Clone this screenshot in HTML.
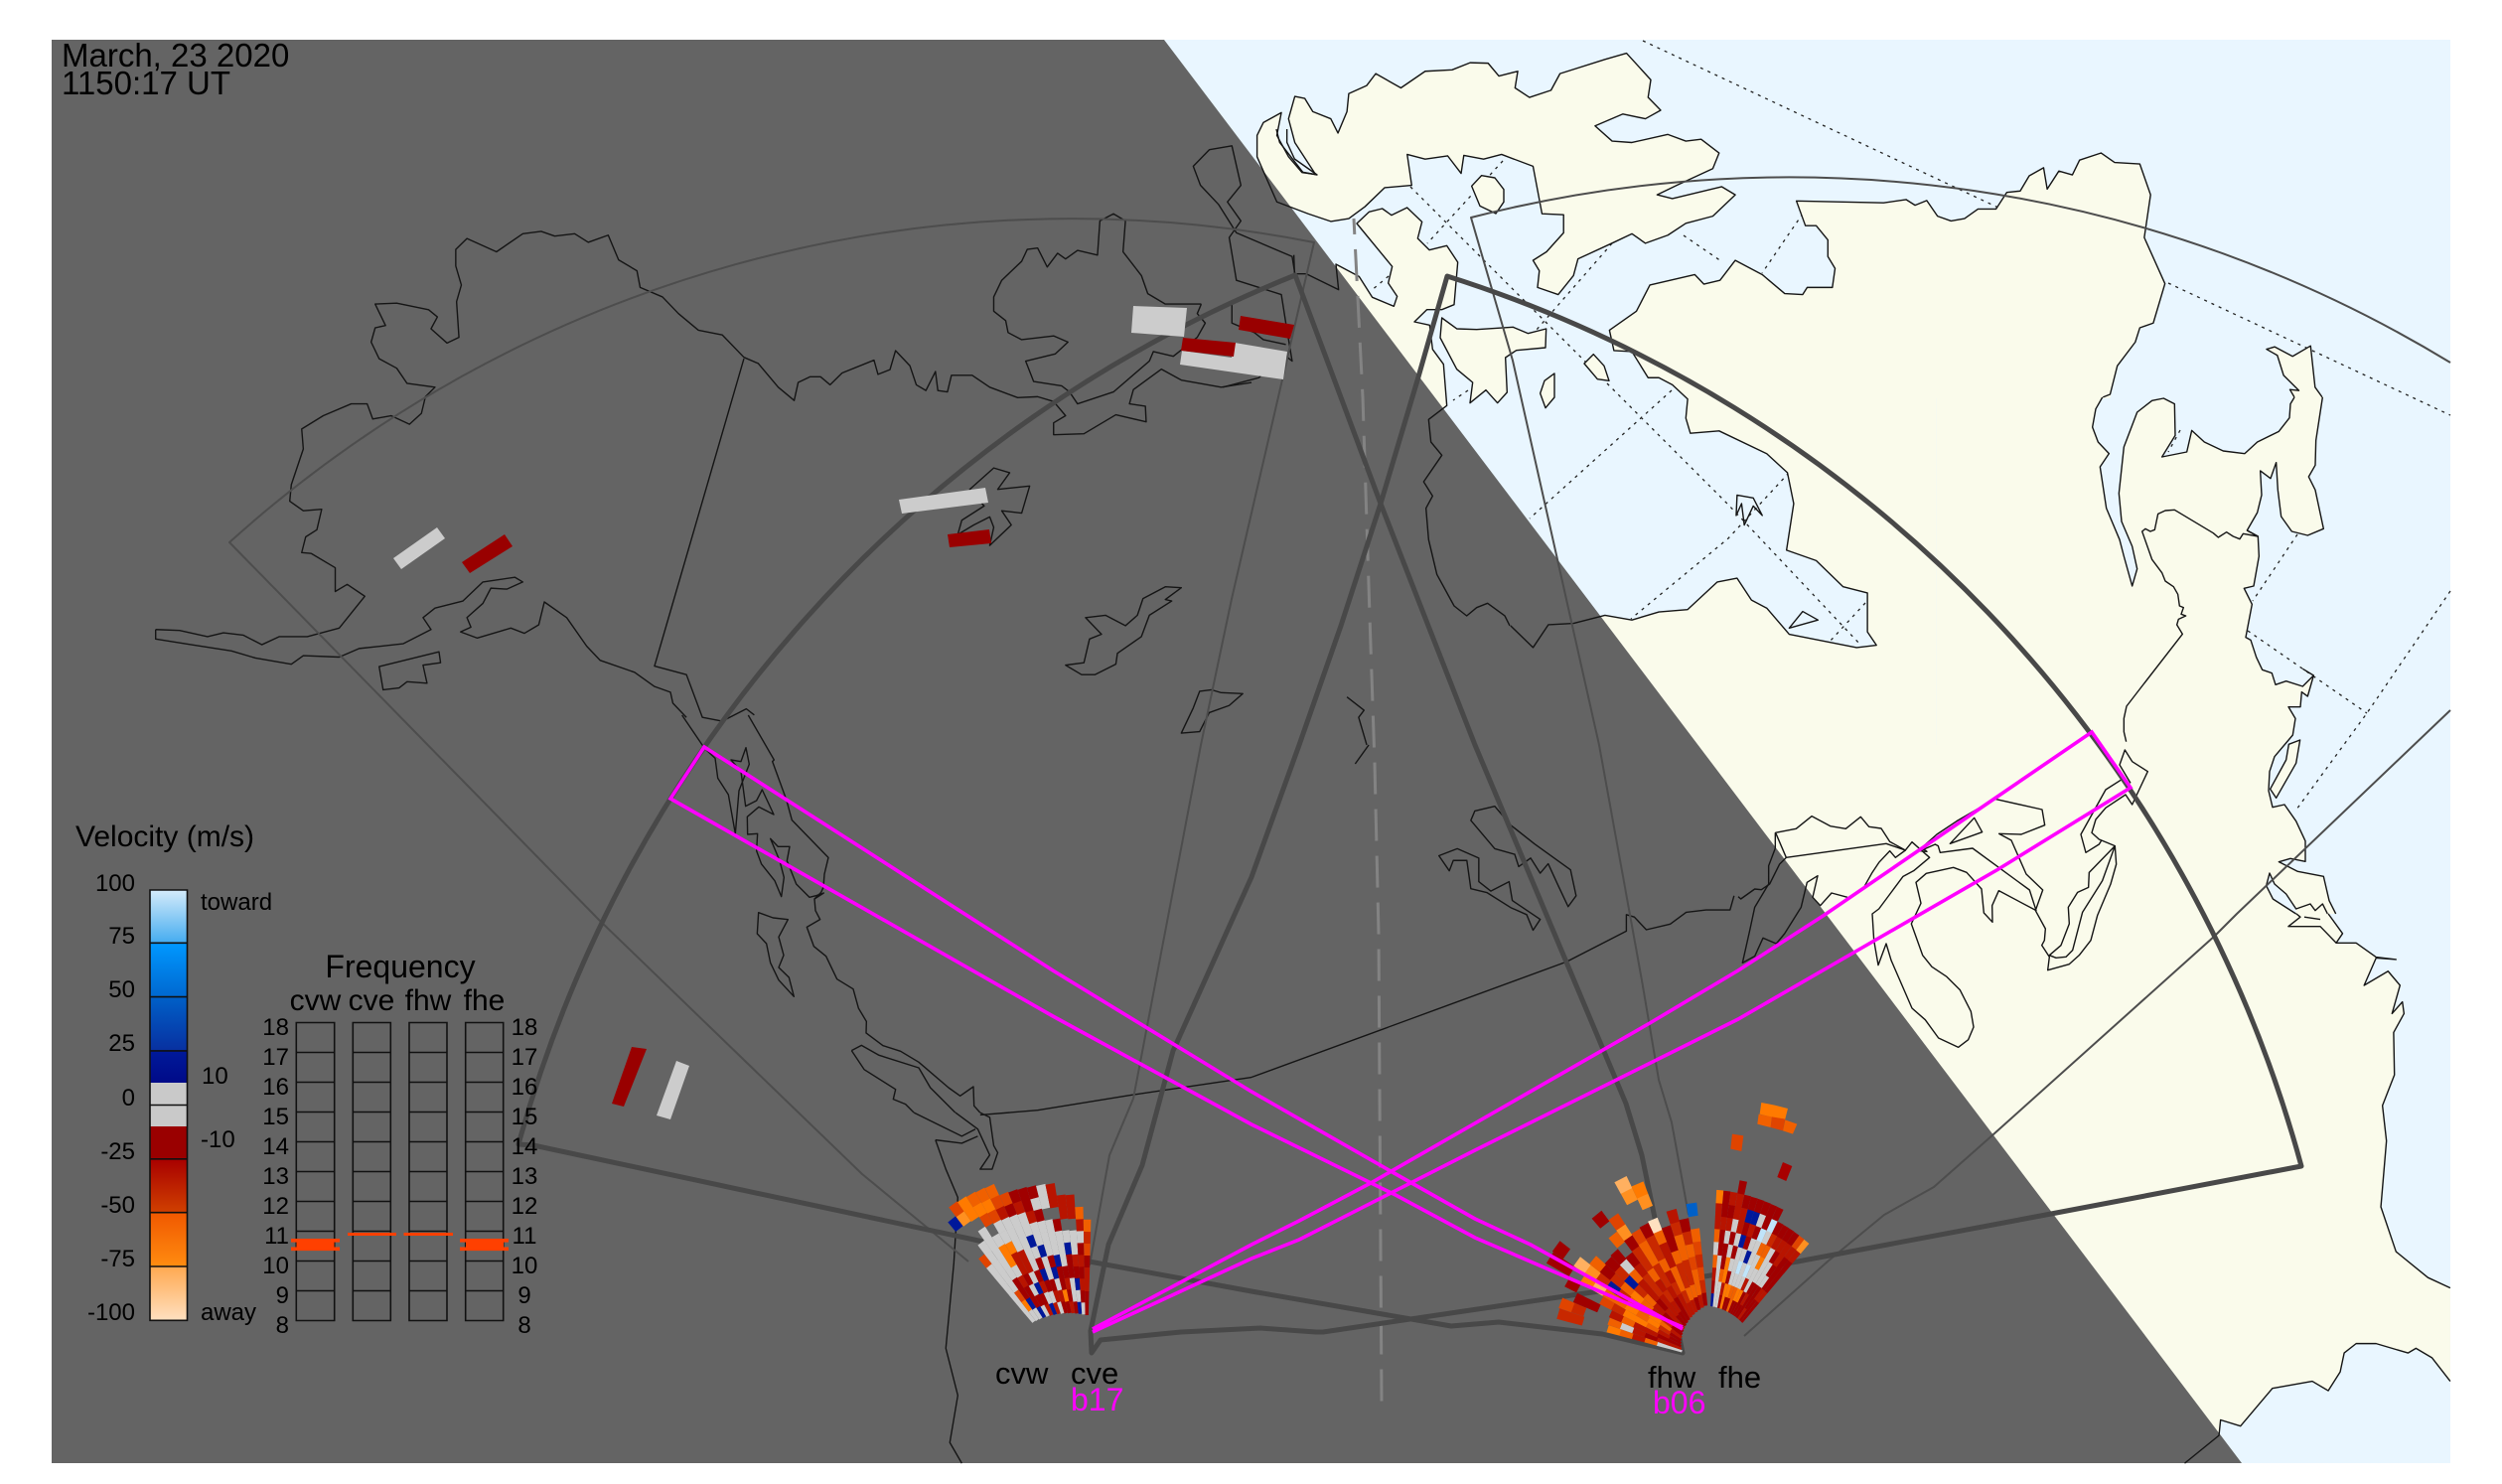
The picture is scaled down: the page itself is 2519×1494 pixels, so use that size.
<!DOCTYPE html>
<html><head><meta charset="utf-8"><style>
html,body{margin:0;padding:0;background:#fff}
svg{display:block}
path,line,rect{vector-effect:non-scaling-stroke}
text{font-family:"Liberation Sans",sans-serif;fill:#000}
.c{fill:none;stroke:#151515;stroke-width:1.4;stroke-linejoin:round}
.g{fill:none;stroke:#222;stroke-width:1.3;stroke-dasharray:3 5}
.l{fill:#fafbeb;stroke:none}
.tk{fill:none;stroke:#484848;stroke-width:5;stroke-linejoin:round}
.tn{fill:none;stroke:#4d4d4d;stroke-width:2;stroke-linejoin:round}
.m{fill:none;stroke:#ff00ff;stroke-width:3.6;stroke-linejoin:miter}
.t{font-size:24px}.b{stroke:#111;stroke-width:1.6;fill:none}
</style></head><body>
<svg xmlns="http://www.w3.org/2000/svg" width="2519" height="1494" viewBox="0 0 2519 1494">
<defs>
<linearGradient id="c1" x1="0" y1="0" x2="0" y2="1"><stop offset="0" stop-color="#d4ebfa"/><stop offset="1" stop-color="#45acf0"/></linearGradient>
<linearGradient id="c2" x1="0" y1="0" x2="0" y2="1"><stop offset="0" stop-color="#0098ff"/><stop offset="1" stop-color="#0068d0"/></linearGradient>
<linearGradient id="c3" x1="0" y1="0" x2="0" y2="1"><stop offset="0" stop-color="#0060c8"/><stop offset="1" stop-color="#0830a0"/></linearGradient>
<linearGradient id="c4" x1="0" y1="0" x2="0" y2="1"><stop offset="0" stop-color="#001a9a"/><stop offset="1" stop-color="#000a88"/></linearGradient>
<linearGradient id="c5" x1="0" y1="0" x2="0" y2="1"><stop offset="0" stop-color="#a80000"/><stop offset="1" stop-color="#d04000"/></linearGradient>
<linearGradient id="c6" x1="0" y1="0" x2="0" y2="1"><stop offset="0" stop-color="#f05800"/><stop offset="1" stop-color="#ff8c10"/></linearGradient>
<linearGradient id="c7" x1="0" y1="0" x2="0" y2="1"><stop offset="0" stop-color="#ffa850"/><stop offset="1" stop-color="#ffe0c0"/></linearGradient>
</defs>

<!-- sea -->
<rect x="52" y="40" width="2415" height="1433" fill="#e9f6ff"/>

<!-- dotted graticule -->
<path class="g" d="M1654,41 2014,210M2183,285 2467,418M1513,162 1437,245M1420,188 1740,508 1874,650M1623,245 1547,332M1695,237 1733,263M1478,393 1463,403M1683,393 1540,522M1398,278 1380,293M1878,607 1842,646M1815,215 1774,275M1801,476 1740,542 1642,623M2313,538 2268,605M2263,635 2383,718M2467,595 2383,718 2312,815M2195,433 2183,455M2100,210 2075,250"/>

<!-- land fills -->
<g transform="translate(1100,0) scale(.905,.4783)">
<path class="l" d="M210,237 190,258 183,285 183,330 205,425 240,450 265,466 285,460 303,435 325,395 355,390 350,325 370,335 395,328 410,365 413,327 435,335 455,325 490,350 500,450 524,452 524,490 505,530 490,548 497,570 495,605 518,620 535,580 540,545 580,510 600,492 615,512 640,495 660,470 690,455 715,410 700,393 645,418 628,410 650,390 690,355 697,322 677,293 660,297 640,283 600,300 578,297 559,265 590,240 615,250 632,232 618,205 621,168 594,112 570,125 520,155 510,190 486,205 470,185 473,150 452,160 440,133 420,132 400,147 370,150 343,185 315,155 305,180 285,197 283,235 273,280 265,250 245,235 236,207 225,203 218,250 225,300 248,367 233,363 218,330 205,285Z"/>
<path class="l" d="M300,1363 490,1363 507,1315 535,1312 570,1295 600,1305 630,1288 662,1283 695,1225 717,1217 733,1263 750,1280 775,1335 815,1350 850,1363 872,1358 862,1330 862,1248 835,1235 805,1180 772,1158 780,1060 773,995 750,955 697,907 665,912 660,880 662,840 645,810 630,795 618,795 600,740 580,738 575,695 605,655 620,600 670,578 680,598 698,590 715,548 745,578 770,618 790,620 795,605 823,605 826,565 818,540 818,505 805,475 793,475 783,423 880,427 905,420 915,432 928,422 940,455 955,465 970,460 985,440 1005,440 1017,405 1032,402 1042,370 1058,353 1062,398 1075,360 1090,368 1098,337 1122,322 1137,342 1165,345 1177,410 1170,500 1193,597 1180,680 1165,690 1160,720 1140,770 1132,838 939,838 939,1568 300,1568Z"/>
<path class="l" d="M1335,838 1332,820 1342,822 1325,790 1318,748 1306,735 1315,730 1335,750 1355,728 1360,815 1370,838Z"/>
</g>
<g transform="translate(1240,130) scale(.33333)">
<path class="l" d="M378,285 415,250 455,240 483,260 530,237 575,280 562,330 597,365 650,352 683,402 672,530 635,545 590,545 552,582 598,592 607,665 640,710 650,835 600,900 300,500 315,408 385,445 425,508 490,535 500,505 473,465 485,415Z"/>
<path class="l" d="M635,570 680,603 740,605 850,598 895,617 950,603 948,660 860,668 827,690 832,795 803,827 768,788 720,827 728,765 680,725 630,630Z"/>
<path class="l" d="M1065,708 1093,680 1125,715 1140,760 1105,755ZM932,798 945,760 975,738 975,810 948,842ZM725,172 755,140 795,147 822,182 822,220 798,255 750,232Z"/>
</g>
<g transform="translate(1950,400) scale(.33333)">
<path class="l" d="M0,0 500,0 480,35 470,90 487,135 520,170 493,210 512,335 552,430 565,480 590,570 605,518 590,450 558,375 550,290 565,150 605,45 650,10 685,3 718,20 720,115 680,180 755,165 770,100 808,135 865,162 930,170 968,135 1033,103 1065,62 1068,20 1080,0 1165,0 1145,130 1143,205 1123,240 1143,280 1168,397 1120,417 1072,405 1040,360 1030,280 1025,197 1008,245 977,222 981,295 968,348 937,402 970,420 973,480 957,570 928,577 952,625 933,725 948,733 965,785 983,823 1012,833 1023,868 1055,857 1105,873 1138,840 1120,903 1102,890 1098,935 1062,935 1083,970 1075,1020 1020,1085 1005,1130 1002,1188 1014,1238 1050,1230 1085,1280 1113,1340 1113,1402 1068,1393 1033,1403 1090,1432 1168,1447 1185,1520 1205,1560 0,1560Z"/>
<path d="M1005,1437 1020,1470 1055,1500 1085,1545 1085,1560 1015,1515 995,1475Z" fill="#e9f6ff"/>
<path class="l" d="M1063,1048 1097,1035 1085,1105 1025,1210 1007,1183 1055,1095Z"/>
</g>
<g transform="translate(1260,750) scale(.803,.4745)">
<path class="l" d="M0,0 862,0 862,360 0,360Z"/>
<path class="l" d="M0,356 1350,356 1368,400 1360,420 1385,420 1410,450 1435,455 1410,452 1395,510 1425,480 1440,510 1430,570 1443,545 1445,570 1432,610 1433,700 1418,765 1423,840 1416,980 1435,1075 1475,1130 1503,1152 1503,1350 1480,1300 1460,1280 1450,1290 1410,1270 1385,1270 1370,1290 1365,1330 1350,1370 1330,1350 1280,1365 1240,1445 1215,1432 1213,1465 1170,1524 0,1524Z"/>
</g>

<!-- night -->
<path d="M52,40 1172,40 2257,1473 52,1473Z" fill="#646464"/>

<!-- coast strokes -->
<g transform="scale(.8036,.4783)">
<path class="c" d="M195,1325 195,1345 240,1357 290,1370 320,1385 365,1398 380,1380 425,1383 450,1365 505,1355 540,1325 530,1300 545,1280 580,1265 605,1225 645,1215 655,1225 635,1240 615,1238 605,1270 585,1300 590,1320 577,1330 598,1343 640,1322 657,1333 675,1315 682,1267 710,1300 735,1360 752,1390 795,1415 820,1445 840,1457 843,1480 860,1510"/>
<path class="c" d="M195,1325 225,1327 260,1340 280,1332 305,1337 328,1357 350,1340 385,1340 425,1322 457,1255 435,1230 420,1245 420,1195 390,1165 378,1163 383,1130 397,1115 403,1072 380,1075 363,1055 365,1020 380,945 378,903 405,875 440,850 460,850 467,882 490,875 513,893 528,870 533,835 545,815 510,807 497,775 475,755 465,720 470,690 483,685 470,640 497,638 537,652 548,667 540,692 560,722 575,710 572,635 578,600 571,560 571,525 585,502 622,530 655,492 678,487 695,497 720,492 737,510 762,495 775,547 798,570 802,605 830,625 850,660 875,695 905,705 932,752 950,765 975,815 995,843 1000,805 1015,793 1028,793 1040,810 1055,785 1095,758 1100,788 1115,778 1122,738 1140,770 1148,810 1160,822 1172,782 1175,822 1187,825 1192,790 1218,790 1240,815 1275,837 1300,835 1320,845 1335,875 1320,890 1320,915 1358,913 1398,873 1436,888 1435,855 1415,850 1420,820 1455,777 1480,800 1530,815 1568,805"/>
<path class="c" d="M932,755 820,1402 860,1420 880,1510 905,1518 935,1492 945,1505"/>
<path class="c" d="M1505,640 1460,640 1438,618 1430,580 1407,530 1410,465 1395,450 1378,465 1375,537 1350,527 1335,545 1325,533 1312,562 1300,522 1287,525 1280,550 1255,590 1245,625 1245,655 1260,675 1263,700 1280,715 1320,707 1338,720 1322,745 1285,760 1295,803 1330,812 1340,825 1350,850 1395,825 1440,760 1445,740 1470,750 1500,710 1510,680 1500,660 1505,640"/>
<path class="c" d="M1245,985 1265,995 1250,1030 1290,1023 1280,1080 1255,1075 1267,1105 1240,1148 1245,1110 1240,1088 1220,1105 1200,1125 1205,1095 1233,1065 1215,1030Z"/>
<path class="c" d="M1460,1235 1480,1237 1460,1262 1468,1265 1440,1295 1430,1340 1400,1375 1398,1398 1372,1420 1355,1420 1335,1400 1358,1395 1365,1345 1380,1335 1360,1300 1385,1295 1410,1317 1425,1295 1432,1260Z"/>
<path class="c" d="M1518,1452 1530,1458 1557,1460 1540,1485 1515,1500 1503,1540 1480,1543 1495,1490 1503,1455Z"/>
<path class="c" d="M475,1403 550,1372 552,1395 530,1400 535,1438 510,1435 500,1448 480,1452Z"/>
</g>
<g transform="translate(1100,0) scale(.905,.4783)">
<path class="c" d="M210,237 190,258 183,285 183,330 205,425 240,450 265,466 285,460 303,435 325,395 355,390 350,325 370,335 395,328 410,365 413,327 435,335 455,325 490,350 500,450 524,452 524,490 505,530 490,548 497,570 495,605 518,620 535,580 540,545 580,510 600,492 615,512 640,495 660,470 690,455 715,410 700,393 645,418 628,410 650,390 690,355 697,322 677,293 660,297 640,283 600,300 578,297 559,265 590,240 615,250 632,232 618,205 621,168 594,112 570,125 520,155 510,190 486,205 470,185 473,150 452,160 440,133 420,132 400,147 370,150 343,185 315,155 305,180 285,197 283,235 273,280 265,250 245,235 236,207 225,203 218,250 225,300 248,367 233,363 218,330 205,285Z"/>
<path class="c" d="M465,1317 490,1363 507,1315 535,1312 570,1295 600,1305 630,1288 662,1283 695,1225 717,1217 733,1263 750,1280 775,1335 815,1350 850,1363 872,1358 862,1330 862,1248 835,1235 805,1180 772,1158 780,1060 773,995 750,955 697,907 665,912 660,880 662,840 645,810 630,795 618,795 600,740 580,738 575,695 605,655 620,600 670,578 680,598 698,590 715,548 745,578 770,618 790,620 795,605 823,605 826,565 818,540 818,505 805,475 793,475 783,423 880,427 905,420 915,432 928,422 940,455 955,465 970,460 985,440 1005,440 1017,405 1032,402 1042,370 1058,353 1062,398 1075,360 1090,368 1098,337 1122,322 1137,342 1165,345 1177,410 1170,500 1193,597 1180,680 1165,690 1160,720 1140,770 1132,830 1124,836"/>
<path class="c" d="M1337,836 1332,820 1342,822 1325,790 1318,748 1306,735 1315,730 1335,750 1355,728 1360,815 1368,836"/>
<path class="c" d="M145,815 185,795 212,745 222,760 215,680 210,620 160,590 152,500 165,465 150,425 165,390 155,307 130,315 112,350 120,390 140,430 160,490 222,540 225,575"/>
<path class="c" d="M155,640 155,680 180,700 190,715 215,725"/>
<path class="c" d="M775,1322 790,1287 807,1305ZM717,1042 735,1048 745,1085 735,1065 725,1105 722,1060 716,1085Z"/>
<path class="c" d="M283,1467 302,1495 296,1510 305,1568"/>
</g>
<g transform="translate(1240,130) scale(.33333)">
<path class="c" d="M840,1500 825,1470 773,1432 740,1445 710,1470 672,1440 620,1345 595,1240 587,1145 607,1108 580,1065 635,985 602,945 595,877 650,835 640,710 607,665 598,592 552,582 590,545 635,545 672,530 683,402 650,352 597,365 562,330 575,280 530,237 483,260 455,240 415,250 378,285 485,415 473,465 500,505 490,535 425,508 385,445 315,408 323,485 225,437 190,437 188,380"/>
<path class="c" d="M635,570 680,603 740,605 850,598 895,617 950,603 948,660 860,668 827,690 832,795 803,827 768,788 720,827 728,765 680,725 630,630Z"/>
<path class="c" d="M1065,708 1093,680 1125,715 1140,760 1105,755ZM932,798 945,760 975,738 975,810 948,842ZM725,172 755,140 795,147 822,182 822,220 798,255 750,232Z"/>
<path class="c" d="M135,0 145,40 215,130 258,138 190,90 167,40 167,0"/>
</g>
<g transform="translate(660,720) scale(.33333)">
<path class="c" d="M80,0 148,100 180,130 188,190 220,240 241,358 252,228 283,148 273,98 258,140 228,135 258,170 272,275 305,258 322,225 357,300 312,277 277,307 278,360 308,358 305,410 320,450 360,500 380,548 388,490 375,440 347,373 370,397 405,397 397,440 425,510 465,550 485,545 508,537 480,555 483,590 497,617 457,640 478,698 515,728 548,797 597,827 613,885 637,925 636,960 687,998 740,1015 795,1048 885,1125 920,1150 960,1122 962,1180 980,1200"/>
<path class="c" d="M280,0 358,135 353,140 395,255 412,317 522,430 510,480 507,520 500,535 480,555"/>
<path class="c" d="M311,596 355,612 400,617 372,670 387,725 372,762 403,792 418,850 372,800 347,748 335,690 307,660Z"/>
<path class="c" d="M592,1013 622,997 675,1027 795,1065 830,1125 905,1200M592,1013 630,1070 725,1130 718,1160 755,1175 780,1200"/>
</g>
<g transform="translate(0,750) scale(.8036,.4745)">
<path class="c" d="M1197,780 1225,815 1240,870 1228,900 1243,900 1250,865 1245,850 1240,790 1228,780"/>
<path class="c" d="M1145,780 1175,805 1205,830 1222,815"/>
<path class="c" d="M1172,838 1185,900 1200,960 1195,1100 1185,1280 1200,1380 1190,1480 1205,1524"/>
<path class="c" d="M1172,838 1205,845 1225,830"/>
<path class="c" d="M1228,785 1300,775 1420,742 1568,705"/>
</g>
<g transform="translate(1260,750) scale(.803,.4745)">
<path class="c" d="M0,705 395,460 470,395 470,360 480,365 495,392 525,380 545,355 570,350 600,350 605,320"/>
<path class="c" d="M1310,358 1315,365 1300,385 1340,385 1360,420M1340,370 1320,365"/>
<path class="c" d="M1350,358 1368,400 1360,420 1385,420 1410,450 1435,455 1410,452 1395,510 1425,480 1440,510 1430,570 1443,545 1445,570 1432,610 1433,700 1418,765 1423,840 1416,980 1435,1075 1475,1130 1503,1152"/>
<path class="c" d="M1503,1350 1480,1300 1460,1280 1450,1290 1410,1270 1385,1270 1370,1290 1365,1330 1350,1370 1330,1350 1280,1365 1240,1445 1215,1432 1213,1465 1170,1524"/>
<path class="c" d="M305,130 325,170 355,210 400,265 407,320 397,343 385,300 372,252 362,272 350,240 335,258 330,232 305,220 275,160 280,140Z"/>
<path class="c" d="M235,235 258,220 285,240 285,290 300,310 323,290 327,330 362,370 353,393 345,360 325,345 295,313 275,305 270,245 253,245 248,267Z"/>
<path class="c" d="M130,40 147,0"/>
</g>
<g transform="translate(1950,400) scale(.33333)">
<path class="c" d="M500,0 480,35 470,90 487,135 520,170 493,210 512,335 552,430 565,480 590,570 605,518 590,450 558,375 550,290 565,150 605,45 650,10 685,3 718,20 720,115 680,180 755,165 770,100 808,135 865,162 930,170 968,135 1033,103 1065,62 1068,20 1080,0"/>
<path class="c" d="M1165,0 1145,130 1143,205 1123,240 1143,280 1168,397 1120,417 1072,405 1040,360 1030,280 1025,197 1008,245 977,222 981,295 968,348 937,402 970,420 973,480 957,570 928,577 952,625 933,725 948,733 965,785 983,823 1012,833 1023,868 1055,857 1105,873 1138,840 1105,820M1138,840 1120,903 1102,890 1098,935 1062,935 1083,970 1075,1020 1020,1085 1005,1130 1002,1188 1014,1238 1050,1230 1085,1280 1113,1340 1113,1402 1068,1393 1033,1403 1090,1432 1168,1447 1185,1520 1205,1560"/>
<path class="c" d="M1063,1048 1097,1035 1085,1105 1025,1210 1007,1183 1055,1095Z"/>
<path class="c" d="M1085,1560 1015,1515 995,1475 1005,1437 1020,1470 1055,1500 1085,1545 1128,1530 1143,1550 1165,1530 1180,1560"/>
<path class="c" d="M937,402 970,420 925,412 915,428 895,420 875,407 850,423 835,410 718,340 690,342 668,352 658,400 645,405 630,397 620,405 650,490 680,530 690,555 715,572 728,595 733,630 745,635 738,655 752,660 730,670 725,687 742,715 610,885 573,933 565,970 565,1010 572,1040"/>
</g>
<g transform="translate(1750,750) scale(.33333)">
<path class="c" d="M0,458 8,465 50,435 70,437 95,420 125,360 145,340 447,298 505,318 475,340 458,320 425,355 405,385 378,433"/>
<path class="c" d="M145,340 113,265 175,253 222,215 278,245 325,253 370,217 395,247 432,252 458,292 505,318 525,293 578,340 530,380 498,397 425,495 405,510 410,590 423,665 447,600 462,650 525,795 565,830 605,885 665,913 695,890 711,852 703,805 670,740 630,700 585,670 557,635 523,540 552,478 537,415 568,388 650,370 690,385 735,435 742,507 768,535 767,485 787,440 900,500 880,438 708,312 610,325 604,305 595,300 550,320 570,322 555,310 600,270 660,230 775,163 918,195 926,242 855,270 788,268 825,288 870,390 920,438 898,500 928,555 925,590 917,605 940,640 935,680 1000,662 1030,635 1065,590 1085,515 1125,420 1142,360 1138,305 1060,385 1058,430 1025,445 997,490 1000,540 975,605 940,635 960,643 990,640 1010,620 1040,505 1100,410 1138,305 1090,285 1068,265 1080,225 1110,190 1170,150 1190,180 1237,80 1190,50 1168,15 1152,60 1185,115"/>
<path class="c" d="M1165,100 1110,135 1035,270 1050,325 1090,300 1098,287"/>
<path class="c" d="M713,220 737,263 640,298Z"/>
<path class="c" d="M112,312 92,365 92,420 50,490 35,560 13,658 50,638 75,583 115,600 140,570 190,490 208,415 240,395 225,460 248,485 282,447 330,460"/>
<path class="c" d="M112,265 112,312"/>
</g>

<!-- dashed meridian -->
<path d="M1363,220 1372,400 1379,620 1384,769 1388,940 1391,1414" fill="none" stroke="#838383" stroke-width="3" stroke-dasharray="32 15" stroke-dashoffset="16"/>

<!-- thin FOVs -->
<path class="tn" d="M975,1270 868,1182 603,926 231,546 A1265.5,1265.5 0 0 1 1323,244 L1310,300 1240,603 1209,750 1141,1106 1117,1163 1097,1274"/>
<path class="tn" d="M2467,365 A1282,1282 0 0 0 1481,219 L1523,363 1583,630 1610,750 1653,987 1670,1087 1683,1130 1700,1223"/>
<path class="tn" d="M2467,715 2252,920 2230,942 2007,1142 1947,1195 1897,1223 1840,1270 1756,1345"/>

<!-- thick FOVs -->
<path class="tk" d="M1099,1362 1098,1340 1116,1253 1150,1173 1181,1058 1260,883 1308,750 1350,630 1390,507 1427,383 1457,278 A1297,1297 0 0 1 2317,1174 L2065,1222 1810,1270 1710,1286 1589,1303 1332,1341 1325,1341 1269,1337 1189,1341 1108,1349Z"/>
<path class="tk" d="M1694,1362 1653,1163 1637,1111 1573,959 1485,750 1438,630 1390,507 1304,277 A1324,1324 0 0 0 522,1152 L537,1153 1004,1253 1260,1300 1461,1335 1509,1331 1613,1343Z"/>

<!-- small backscatter bars -->
<g fill="#cccccc">
<path d="M1141,308 1195,310 1192,339 1139,335Z"/>
<path d="M1190,353 1240,360 1243,345 1296,354 1292,382 1188,367Z"/>
<path d="M905,503 992,491 995,506 908,517Z"/>
<path d="M440,531 448,542 404,573 396,562Z"/>
<path d="M681,1068 694,1073 675,1127 661,1123Z"/>
</g>
<g fill="#990000">
<path d="M1191,340 1244,345 1242,359 1189,353Z"/>
<path d="M1249,318 1303,327 1299,341 1247,332Z"/>
<path d="M954,538 996,533 998,547 956,551Z"/>
<path d="M508,538 516,550 473,577 465,566Z"/>
<path d="M636,1054 651,1056 628,1114 616,1111Z"/>
</g>

<!-- radar fans -->
<g id="fans"></g>
<g transform="translate(1560,1090) scale(.3333)">
<path fill="#ff7a00" d="M640,60 680,68 675,105 635,95ZM680,68 720,78 712,110 675,105Z"/>
<path fill="#f06000" d="M632,95 672,103 668,135 628,125ZM712,112 748,125 735,155 705,145Z"/>
<path fill="#e04400" d="M672,103 712,110 705,145 668,135ZM552,155 586,160 580,207 547,200Z"/>
<path fill="#a80000" d="M705,240 733,252 715,297 688,285Z"/>
</g>

<!-- magenta beams -->
<path class="m" d="M1694,1338 1541,1253 1485,1227 1400,1179 1260,1099 1060,977 709,752 675,804 1060,1023 1260,1132 1405,1203 1485,1246 1694,1336"/>
<path class="m" d="M1100,1338 1260,1253 1308,1229 1380,1191 1661,1030 1750,977 1837,921 2008,804 2106,737 2145,793 2012,875 1868,958 1750,1026 1694,1054 1485,1158 1308,1248 1260,1267 1100,1341"/>

<!-- colour bar -->
<rect x="151" y="896" width="37.5" height="53.3" fill="url(#c1)"/>
<rect x="151" y="949.3" width="37.5" height="54.3" fill="url(#c2)"/>
<rect x="151" y="1003.6" width="37.5" height="54.3" fill="url(#c3)"/>
<rect x="151" y="1057.9" width="37.5" height="32.1" fill="url(#c4)"/>
<rect x="151" y="1090" width="37.5" height="44" fill="#c9c9c9"/>
<rect x="151" y="1134" width="37.5" height="32.8" fill="#9a0000"/>
<rect x="151" y="1166.8" width="37.5" height="53.9" fill="url(#c5)"/>
<rect x="151" y="1220.7" width="37.5" height="54.3" fill="url(#c6)"/>
<rect x="151" y="1275" width="37.5" height="54.3" fill="url(#c7)"/>
<path class="b" d="M151,896H188.5V1329.3H151ZM151,949.3H188.5M151,1003.6H188.5M151,1057.9H188.5M151,1112.5H188.5M151,1166.8H188.5M151,1220.7H188.5M151,1275H188.5"/>

<!-- frequency columns -->
<g class="b">
<path d="M298.3,1029.5H336.7V1329.5H298.3ZM355.3,1029.5H393.3V1329.5H355.3ZM412,1029.5H450V1329.5H412ZM468.7,1029.5H506.7V1329.5H468.7Z"/>
<path d="M298.3,1059.5H336.7M298.3,1089.5H336.7M298.3,1119.5H336.7M298.3,1149.5H336.7M298.3,1179.5H336.7M298.3,1209.5H336.7M298.3,1239.5H336.7M298.3,1269.5H336.7M298.3,1299.5H336.7"/>
<path d="M355.3,1059.5H393.3M355.3,1089.5H393.3M355.3,1119.5H393.3M355.3,1149.5H393.3M355.3,1179.5H393.3M355.3,1209.5H393.3M355.3,1239.5H393.3M355.3,1269.5H393.3M355.3,1299.5H393.3"/>
<path d="M412,1059.5H450M412,1089.5H450M412,1119.5H450M412,1149.5H450M412,1179.5H450M412,1209.5H450M412,1239.5H450M412,1269.5H450M412,1299.5H450"/>
<path d="M468.7,1059.5H506.7M468.7,1089.5H506.7M468.7,1119.5H506.7M468.7,1149.5H506.7M468.7,1179.5H506.7M468.7,1209.5H506.7M468.7,1239.5H506.7M468.7,1269.5H506.7M468.7,1299.5H506.7"/>
</g>
<g fill="#ff4000">
<rect x="293" y="1247" width="49" height="3.6"/><rect x="293" y="1255.5" width="49" height="3.6"/><rect x="298.5" y="1247" width="38" height="12"/>
<rect x="350" y="1241" width="49" height="3"/><rect x="406.5" y="1241" width="49.5" height="3"/>
<rect x="463" y="1247" width="49" height="3.6"/><rect x="463" y="1255.5" width="49" height="3.6"/><rect x="469" y="1247" width="38" height="12"/>
</g>

<!-- text -->
<text x="62" y="67" font-size="33">March, 23 2020</text>
<text x="62" y="95" font-size="33">1150:17 UT</text>
<text x="76" y="852" font-size="30">Velocity (m/s)</text>
<g class="t" text-anchor="end">
<text x="136" y="897">100</text><text x="136" y="950">75</text><text x="136" y="1004">50</text><text x="136" y="1058">25</text><text x="136" y="1113">0</text><text x="136" y="1167">-25</text><text x="136" y="1221">-50</text><text x="136" y="1275">-75</text><text x="136" y="1329">-100</text>
</g>
<g class="t">
<text x="202" y="916">toward</text><text x="202" y="1329">away</text><text x="203" y="1091">10</text><text x="202" y="1155">-10</text>
</g>
<text x="403" y="984" font-size="32" text-anchor="middle">Frequency</text>
<g font-size="30" text-anchor="middle">
<text x="317.5" y="1017">cvw</text><text x="374" y="1017">cve</text><text x="431" y="1017">fhw</text><text x="487.5" y="1017">fhe</text>
</g>
<g class="t" text-anchor="end">
<text x="291" y="1042">18</text><text x="291" y="1072">17</text><text x="291" y="1102">16</text><text x="291" y="1132">15</text><text x="291" y="1162">14</text><text x="291" y="1192">13</text><text x="291" y="1222">12</text><text x="291" y="1252">11</text><text x="291" y="1282">10</text><text x="291" y="1312">9</text><text x="291" y="1342">8</text>
</g>
<g class="t" text-anchor="middle">
<text x="528" y="1042">18</text><text x="528" y="1072">17</text><text x="528" y="1102">16</text><text x="528" y="1132">15</text><text x="528" y="1162">14</text><text x="528" y="1192">13</text><text x="528" y="1222">12</text><text x="528" y="1252">11</text><text x="528" y="1282">10</text><text x="528" y="1312">9</text><text x="528" y="1342">8</text>
</g>
<g font-size="31">
<text x="1002" y="1393">cvw</text><text x="1078" y="1393">cve</text>
<text x="1659" y="1397">fhw</text><text x="1730" y="1397">fhe</text>
</g>
<g font-size="32">
<text x="1078" y="1420" style="fill:#ff00ff">b17</text>
<text x="1664" y="1423" style="fill:#ff00ff">b06</text>
</g>
</svg>
<script>
(function(){
var C={d:'#a00000',r:'#b81400',R:'#c82800',o:'#e04400',O:'#f06000',a:'#ff7a00',A:'#ff9020',p:'#ffb060',P:'#ffe0c0',w:'#cccccc',b:'#00189a',B:'#0060c8',l:'#c0e4fa'};
var g=document.getElementById('fans'),NS='http://www.w3.org/2000/svg';
function fan(px,py,a0,a1,r0,r1,gt,rows){
 var n=rows.length,da=(a1-a0)/n;
 rows.forEach(function(s,i){
  var a=(a0+da*i)*Math.PI/180,b=(a0+da*(i+1))*Math.PI/180,rs=r0+(r1-r0)*i/(n-1);
  for(var j=0;j<s.length;j++){var c=s[j];if(c==='.')continue;
   var r=rs+gt*j,q=r+gt+.3,p=document.createElementNS(NS,'path');
   var f=function(R,A){return (px+R*Math.sin(A)).toFixed(1)+','+(py-R*Math.cos(A)).toFixed(1)};
   p.setAttribute('d','M'+f(r,a)+' '+f(q,a)+' '+f(q,b)+' '+f(r,b)+'Z');
   p.setAttribute('fill',C[c]);g.appendChild(p);
  }
 });
}
fan(1094,1397,-40,1.5,85,73,12,[
"wwwwwwo...b.",
"waowwwww..Ao",
"wbddwwwww.aa",
"bddrwaaw.oaO",
"wdwdrrawwoaO",
"rdbwrrwwwroO",
"bwrdwwwwwdo",
"rwdbdwbwwrd",
"wrdwwbwwrdd",
"drwbdwwwdwd",
"daddbwww.ww",
"rdrdwwwd.rr",
"dwwddbw.rr",
"bwbdrww.rr",
"wdrdrdwrO",
"ddrrdoRO"]);
fan(1725,1370,-75,-6,33,56,13,[
"wwOrOa..RR",
"rrdrwO..Ro",
"ddrrOr.dd",
"drOaaRo..d",
"dRaOaOOpa.dd",
"rOaOORbRAp.d",
"dRrOaORdO",
"ddrORbRd",
"rrdrrOwd",
"drrRRrd.O.d",
"drRrORRdAo",
"ddrRROOo",
"rrRrORRd..Ap",
"rROOrrOP.Aa",
"rORROdd",
"dORROORr",
"rOOoORd",
"dRoRoO.B"]);
fan(1719,1374,3,40,59,55,13,[
"bdrOwOrra",
"wwwwddrdd",
"wwOddwrdr",
"draawdwrrd",
"aadwdwrrd",
"dawwwbdbd",
"dOwlwdrbd",
"OOwwbwdwd",
"dawlwwldd",
"darwwOwld",
"ddwwaORd",
"drdwwwrd",
"dddwwdrd",
"rddwdrrd",
"ddrdddro",
"ddrdddrA"]);
})();
</script>
</body></html>
